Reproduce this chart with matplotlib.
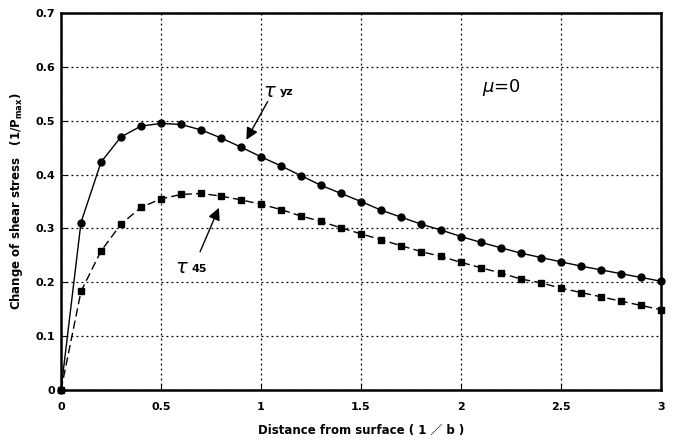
import matplotlib
matplotlib.use('Agg')
import matplotlib.pyplot as plt

# distance from surface (1/b)
dist = [0.0, 0.1, 0.2, 0.3, 0.4, 0.5, 0.6, 0.7, 0.8, 0.9, 1.0,
        1.1, 1.2, 1.3, 1.4, 1.5, 1.6, 1.7, 1.8, 1.9, 2.0,
        2.1, 2.2, 2.3, 2.4, 2.5, 2.6, 2.7, 2.8, 2.9, 3.0]
tau_yz = [0.0, 0.311, 0.423, 0.470, 0.490, 0.495, 0.493, 0.483, 0.468, 0.451, 0.433,
          0.416, 0.398, 0.380, 0.365, 0.350, 0.334, 0.321, 0.308, 0.297, 0.285,
          0.274, 0.264, 0.254, 0.246, 0.238, 0.230, 0.223, 0.216, 0.209, 0.202]
tau_45 = [0.0, 0.183, 0.258, 0.308, 0.339, 0.355, 0.363, 0.365, 0.360, 0.353, 0.345,
          0.335, 0.323, 0.313, 0.301, 0.290, 0.279, 0.268, 0.257, 0.248, 0.237,
          0.227, 0.217, 0.206, 0.199, 0.189, 0.181, 0.173, 0.165, 0.157, 0.149]
xticks = [0, 0.5, 1, 1.5, 2, 2.5, 3]
xtick_labels = ['0', '0.5', '1', '1.5', '2', '2.5', '3']
yticks = [0, 0.1, 0.2, 0.3, 0.4, 0.5, 0.6, 0.7]
ytick_labels = ['0', '0.1', '0.2', '0.3', '0.4', '0.5', '0.6', '0.7']

plt.rcParams['font.family'] = ['DejaVu Sans']
fig = plt.figure(figsize=(6.77, 4.43), dpi=100)
ax = fig.add_axes([61 / 677, 53 / 443, 600 / 677, 377 / 443])

ax.plot(dist, tau_yz, color='black', linewidth=1.0, marker='o', markersize=5,
        clip_on=False, zorder=3)
ax.plot(dist, tau_45, color='black', linewidth=1.0, linestyle=(0, (6, 3)),
        marker='s', markersize=5, clip_on=False, zorder=3)

ax.set_xlim(0, 3)
ax.set_ylim(0, 0.7)
ax.set_xticks(xticks)
ax.set_xticklabels(xtick_labels)
ax.set_yticks(yticks)
ax.set_yticklabels(ytick_labels)
ax.tick_params(direction='in', length=4, labelsize=8)
ax.tick_params(axis='x', pad=9)
ax.tick_params(axis='y', pad=4)
for lab in ax.get_xticklabels() + ax.get_yticklabels():
    lab.set_fontweight('bold')
ax.grid(True, color='black', linestyle=(0, (1.5, 2.5)), linewidth=0.9)
for sp in ax.spines.values():
    sp.set_linewidth(1.8)

ax.set_xlabel('Distance from surface ( 1 ／ b )', fontsize=8.5, fontweight='bold',
              family=['DejaVu Sans', 'Noto Sans CJK JP'], labelpad=8)
ax.set_ylabel('Change of shear stress   (1/P$_{\\mathbf{max}}$)', fontsize=8.5,
              fontweight='bold', labelpad=8)

ax.annotate('', xy=(0.92, 0.460), xytext=(1.04, 0.54),
            arrowprops=dict(arrowstyle='-|>', color='black', lw=1.0,
                            mutation_scale=18))
ax.text(1.01, 0.555, '$\\tau$', fontsize=14, ha='left', va='center')
ax.text(1.095, 0.553, 'yz', fontsize=8, fontweight='bold', ha='left', va='center')

ax.annotate('', xy=(0.795, 0.343), xytext=(0.69, 0.252),
            arrowprops=dict(arrowstyle='-|>', color='black', lw=1.0,
                            mutation_scale=18))
ax.text(0.57, 0.227, '$\\tau$', fontsize=14, ha='left', va='center')
ax.text(0.655, 0.225, '45', fontsize=8, fontweight='bold', ha='left', va='center')

ax.text(2.2, 0.561, '$\\mu$=0', fontsize=13, ha='center', va='center')

plt.savefig('out.png', dpi=100)
